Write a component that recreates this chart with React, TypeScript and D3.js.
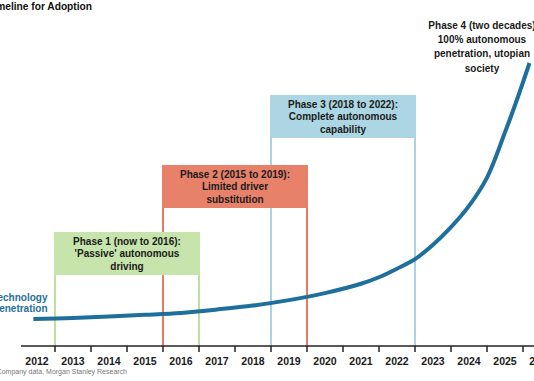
import React from "react";
import * as d3 from "d3";

const years = [2012, 2013, 2014, 2015, 2016, 2017, 2018, 2019, 2020, 2021, 2022, 2023, 2024, 2025, 2026];
const curveYears = [2011.9, 2013, 2014, 2015, 2016, 2017, 2018, 2019, 2020, 2021, 2021.5, 2022, 2022.5, 2023, 2023.5, 2024, 2024.5, 2025, 2025.4, 2025.68];
const curveValues = [9.5, 9.9, 10.4, 11.0, 11.7, 12.9, 14.3, 16.2, 18.7, 22.0, 24.3, 27.3, 30.7, 35.8, 42.0, 49.5, 59.5, 75.5, 89.5, 100];

const phaseNames = ["Phase 3", "Phase 2", "Phase 1"];
const phaseStart = [2018.5, 2015.5, 2012.5];
const phaseEnd = [2022.5, 2019.5, 2016.5];
const phaseLines = [
  ["Phase 3 (2018 to 2022):", "Complete autonomous", "capability"],
  ["Phase 2 (2015 to 2019):", "Limited driver", "substitution"],
  ["Phase 1 (now to 2016):", "'Passive' autonomous", "driving"],
];
const phase4Lines = ["Phase 4 (two decades)", "100% autonomous", "penetration, utopian", "society"];
const seriesLabel = ["Technology", "penetration"];
const title = "Autonomous Cars: Timeline for Adoption";
const source = "Source: Company data, Morgan Stanley Research";

const W = 534;
const H = 381;
const FONT = "'Liberation Sans', Arial, Helvetica, sans-serif";
const headerTops = [95, 165, 232];
const headerH = 43;
const headerFill = ["#acd6e3", "#e8816a", "#c6e4ab"];
const lineColor = ["#a9d3e0", "#e47c63", "#bedf9f"];

export default function App() {
  const x = d3.scaleLinear().domain([2012, 2013]).range([37, 73]);
  const y = d3.scaleLinear().domain([0, 100]).range([346, 63]);
  const axisY = y(0);
  const ticks = d3.range(2012.5, 2026, 1);
  const line = d3
    .line<number>()
    .x((_, i) => x(curveYears[i]))
    .y((d) => y(d))
    .curve(d3.curveCatmullRom.alpha(0.5));

  return (
    <svg width={W} height={H} style={{ position: "absolute", left: 0, top: 0, background: "#fff" }} fontFamily={FONT}>
      <rect width={W} height={H} fill="#fff" />
      <text x={92} y={10} textAnchor="end" fontSize={10.2} fontWeight="bold" fill="#111">
        {title}
      </text>

      {phaseNames.map((p, i) => {
        const x0 = x(phaseStart[i]);
        const x1 = x(phaseEnd[i]);
        const top = headerTops[i];
        return (
          <g key={p}>
            <line x1={x0} x2={x0} y1={top} y2={axisY} stroke={lineColor[i]} strokeWidth={2} />
            <line x1={x1} x2={x1} y1={top} y2={axisY} stroke={lineColor[i]} strokeWidth={2} />
            <rect x={x0 - 1} y={top} width={x1 - x0 + 2} height={headerH} fill={headerFill[i]} />
            {phaseLines[i].map((t, j) => (
              <text
                key={j}
                x={(x0 + x1) / 2}
                y={top + 12.5 + j * 12.5}
                textAnchor="middle"
                fontSize={10}
                fontWeight="bold"
                fill="#1a1a1a"
              >
                {t}
              </text>
            ))}
          </g>
        );
      })}

      <line x1={21} x2={W} y1={axisY} y2={axisY} stroke="#222" strokeWidth={1.5} />
      {ticks.map((t) => (
        <line key={t} x1={x(t)} x2={x(t)} y1={axisY} y2={axisY + 6} stroke="#222" strokeWidth={1.5} />
      ))}
      {years.map((yr) => (
        <text key={yr} x={x(yr)} y={365} textAnchor="middle" fontSize={10.5} fontWeight="bold" fill="#1a1a1a">
          {yr}
        </text>
      ))}

      <path d={line(curveValues) || ""} fill="none" stroke="#1f6f9d" strokeWidth={4} />

      {seriesLabel.map((t, j) => (
        <text key={t} x={47.5} y={301 + j * 11} textAnchor="end" fontSize={10} fontWeight="bold" fill="#1f6f9d">
          {t}
        </text>
      ))}

      {phase4Lines.map((t, j) => (
        <text key={t} x={482} y={29 + j * 14.2} textAnchor="middle" fontSize={10} fontWeight="bold" fill="#1a1a1a">
          {t}
        </text>
      ))}

      <text x={127} y={374} textAnchor="end" fontSize={7} fill="#777">
        {source}
      </text>
    </svg>
  );
}
